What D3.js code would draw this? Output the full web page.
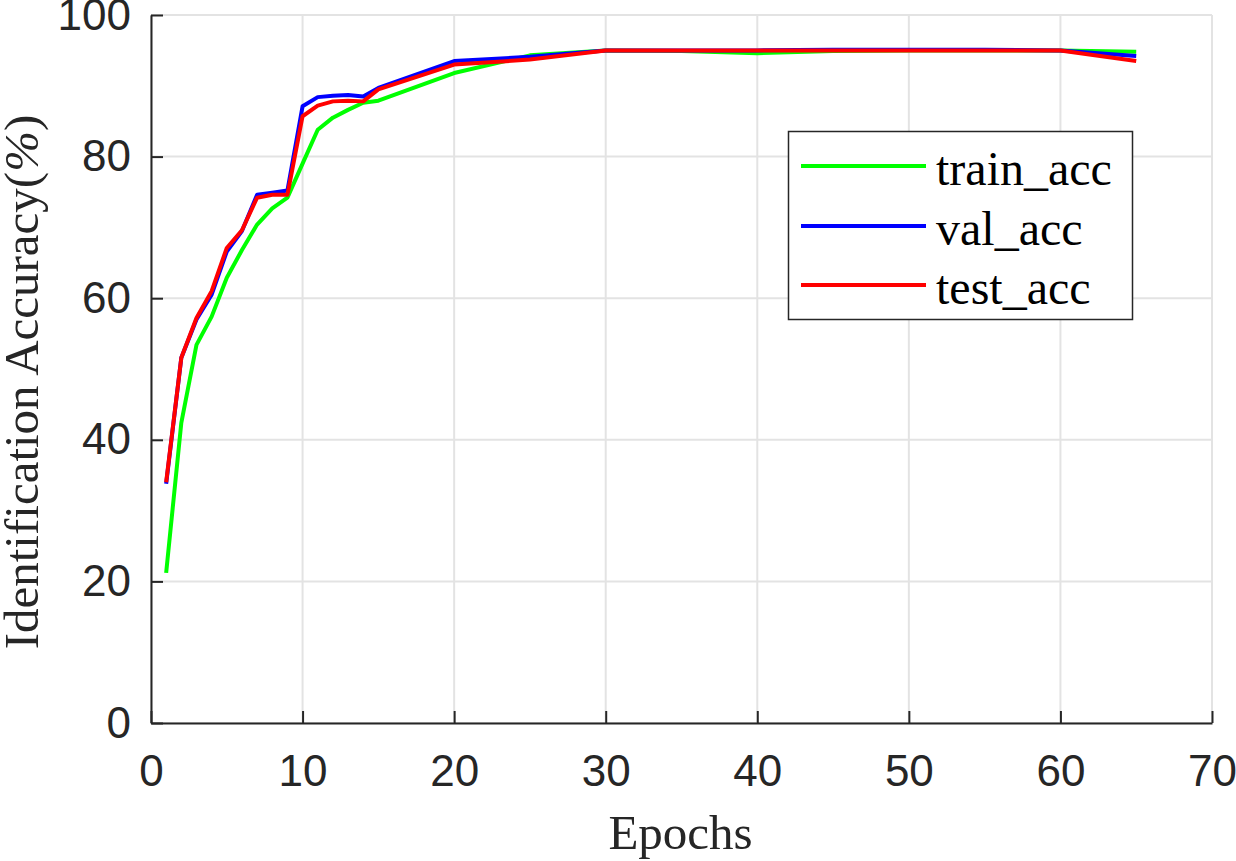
<!DOCTYPE html>
<html lang="en">
<head>
<meta charset="UTF-8">
<title>Identification Accuracy vs Epochs</title>
<script src="https://d3js.org/d3.v7.min.js"></script>
<style>
  body { margin: 0; background: #fff; }
  svg { display: block; }
</style>
</head>
<body>
<script>
// epochs where a value was recorded
const epochs = [1, 2, 3, 4, 5, 6, 7, 8, 9, 10, 11, 12, 13, 14, 15, 20, 25, 30, 35, 40, 45, 50, 55, 60, 65];
const trainAcc = [21.2, 42.4, 53.4, 57.4, 62.9, 66.8, 70.4, 72.7, 74.2, 79.0, 83.8, 85.5, 86.6, 87.6, 87.9, 91.8, 94.3, 95.0, 94.9, 94.6, 94.9, 95.0, 95.0, 95.0, 94.8];
const valAcc = [33.8, 51.6, 57.0, 60.5, 66.6, 69.5, 74.6, 74.9, 75.2, 87.1, 88.4, 88.6, 88.7, 88.5, 89.7, 93.5, 94.1, 95.0, 95.0, 95.0, 95.1, 95.1, 95.1, 95.0, 94.2];
const testAcc = [34.0, 51.6, 57.2, 61.0, 67.1, 69.6, 74.2, 74.6, 74.6, 85.7, 87.2, 87.8, 87.9, 87.8, 89.5, 93.0, 93.7, 95.0, 95.0, 95.0, 95.0, 95.0, 95.0, 95.0, 93.5];
const seriesNames = ["train_acc", "val_acc", "test_acc"];
const seriesColors = ["#00ff00", "#0000ff", "#ff0000"];
const xTicks = [0, 10, 20, 30, 40, 50, 60, 70];
const yTicks = [0, 20, 40, 60, 80, 100];

const W = 1236, H = 861;
const plotL = 151, plotR = 1212, plotT = 15, plotB = 723;
const axisColor = "#262626";

const svg = d3.select("body").append("svg")
    .attr("width", W).attr("height", H);

const x = d3.scaleLinear().domain([0, 70]).range([plotL, plotR]);
const y = d3.scaleLinear().domain([0, 100]).range([plotB, plotT]);

// grid
const grid = svg.append("g").attr("stroke", "#e3e3e3").attr("stroke-width", 2);
grid.selectAll("line.gx").data(xTicks).enter().append("line")
    .attr("x1", d => x(d)).attr("x2", d => x(d))
    .attr("y1", plotT).attr("y2", plotB);
grid.selectAll("line.gy").data(yTicks).enter().append("line")
    .attr("x1", plotL).attr("x2", plotR)
    .attr("y1", d => y(d)).attr("y2", d => y(d));

// series lines
const seriesData = [trainAcc, valAcc, testAcc];
const line = d3.line()
    .x((d, i) => x(epochs[i]))
    .y(d => y(d));

svg.append("g").selectAll("path")
    .data(seriesData)
    .enter().append("path")
    .attr("d", d => line(d))
    .attr("fill", "none")
    .attr("stroke", (d, i) => seriesColors[i])
    .attr("stroke-width", 4)
    .attr("stroke-linejoin", "round");

// axes (ticks pointing inward, matlab style)
const xAxis = svg.append("g")
    .attr("transform", `translate(0,${plotB})`)
    .call(d3.axisBottom(x).tickValues(xTicks).tickSizeInner(-12).tickSizeOuter(0).tickPadding(32));
const yAxis = svg.append("g")
    .attr("transform", `translate(${plotL},0)`)
    .call(d3.axisLeft(y).tickValues(yTicks).tickSizeInner(-12).tickSizeOuter(0).tickPadding(20));

[xAxis, yAxis].forEach(a => {
    a.select(".domain").attr("stroke", axisColor).attr("stroke-width", 2);
    a.selectAll(".tick line").attr("stroke", axisColor).attr("stroke-width", 2);
    a.selectAll(".tick text")
        .attr("fill", axisColor)
        .style("font-family", "'Liberation Sans', Arial, sans-serif")
        .style("font-size", "44px");
});

// axis labels
svg.append("text")
    .attr("x", x(35) - 1).attr("y", 849)
    .attr("text-anchor", "middle")
    .style("font-family", "'Liberation Serif', 'Times New Roman', serif")
    .style("font-size", "49px")
    .attr("fill", axisColor)
    .text("Epochs");

const yl = svg.append("text")
    .attr("transform", "translate(38,382) rotate(-90)")
    .attr("text-anchor", "middle")
    .style("font-family", "'Liberation Serif', 'Times New Roman', serif")
    .style("font-size", "49px")
    .attr("fill", axisColor);
yl.append("tspan").text("Identification Accuracy(");
yl.append("tspan").style("font-style", "italic").text("%");
yl.append("tspan").text(")");

// legend
const legend = svg.append("g");
legend.append("rect")
    .attr("x", 788.5).attr("y", 131.5)
    .attr("width", 344).attr("height", 188)
    .attr("fill", "#fff")
    .attr("stroke", axisColor).attr("stroke-width", 1.5);

const legendY = [166, 226, 285];
const items = legend.selectAll("g.item")
    .data(seriesNames)
    .enter().append("g")
    .attr("transform", (d, i) => `translate(0,${legendY[i]})`);
items.append("line")
    .attr("x1", 801).attr("x2", 926)
    .attr("stroke", (d, i) => seriesColors[i])
    .attr("stroke-width", 4);
items.append("text")
    .attr("x", 936).attr("y", 19)
    .style("font-family", "'Liberation Serif', 'Times New Roman', serif")
    .style("font-size", "48px")
    .attr("fill", "#000")
    .text(d => d);
</script>
</body>
</html>
